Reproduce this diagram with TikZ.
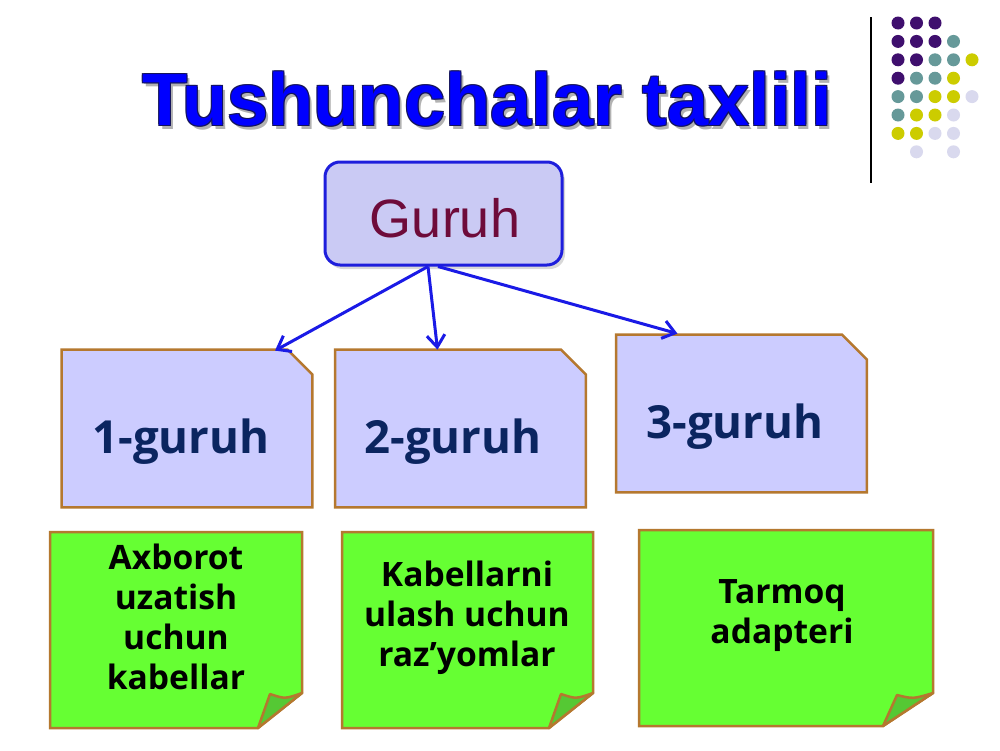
\documentclass[tikz,border=0pt]{standalone}
\usepackage{fontspec}
\setmainfont{Open Sans}
\newfontfamily\titlefont{Liberation Sans}
\usetikzlibrary{calc,arrows.meta,shadows}

\definecolor{titleblue}{HTML}{0000FF}
\definecolor{titleedge}{HTML}{14145C}
\definecolor{rootfill}{HTML}{CACAF4}
\definecolor{rootedge}{HTML}{1E1EDC}
\definecolor{roottext}{HTML}{6E0B3A}
\definecolor{grpfill}{HTML}{CCCCFF}
\definecolor{grpedge}{HTML}{B5782F}
\definecolor{navytext}{HTML}{0B2560}
\definecolor{notegreen}{HTML}{66FF33}
\definecolor{notefold}{HTML}{55C834}
\definecolor{arrowblue}{HTML}{1A1AE6}
\definecolor{dotP}{HTML}{3F0F6E}
\definecolor{dotT}{HTML}{669999}
\definecolor{dotY}{HTML}{CCCC00}
\definecolor{dotL}{HTML}{D9D9EE}

\begin{document}
\begin{tikzpicture}[x=0.5pt,y=-0.5pt,
  titletext/.style={font=\titlefont\bfseries\fontsize{37}{40}\selectfont, anchor=base, inner sep=0pt},
  rootbox/.style={rectangle, rounded corners=7.5pt, draw=rootedge, line width=1.5pt, fill=rootfill,
    minimum width=118.5pt, minimum height=51.5pt, inner sep=0pt,
    drop shadow={shadow xshift=1.5pt, shadow yshift=-2pt, opacity=0.3}},
  grpbox/.style={rectangle, minimum width=125pt, minimum height=78.5pt, inner sep=0pt},
  grpshape/.style={draw=grpedge, line width=1.25pt, fill=grpfill, line join=miter},
  grplabel/.style={font=\bfseries\fontsize{22.8}{26}\selectfont, text=navytext, anchor=base, inner sep=0pt},
  note/.style={draw=grpedge, line width=1.25pt, fill=notegreen},
  notefoldpart/.style={draw=grpedge, line width=1.25pt, fill=notefold, line join=round},
  notetext/.style={font=\bfseries\fontsize{16.8}{20}\selectfont, align=center, inner sep=0pt},
  arr/.style={-{Straight Barb[length=6pt,width=9pt]}, arrowblue, line width=1.5pt}]

\useasboundingbox[fill=white] (0,0) rectangle (1000,750);

% Title with outline and shadow
\node[titletext, text=black!30] (tshadow) at (490,129) {Tushunchalar taxlili};
\foreach \dx/\dy [count=\k] in {-1/-1,1/1,-1/1,1/-1}
  \node[titletext, text=titleedge] (tedge\k) at (487+\dx,125+\dy) {Tushunchalar taxlili};
\node[titletext, text=titleblue] (title) at (487,125) {Tushunchalar taxlili};

% Dot grid and rule
\draw[line width=0.75pt] (871,17) coordinate (rtop) -- (871,183) coordinate (rbot);
\foreach \i/\j/\c in {1/1/dotP,2/1/dotP,3/1/dotP,
    1/2/dotP,2/2/dotP,3/2/dotP,4/2/dotT,
    1/3/dotP,2/3/dotP,3/3/dotT,4/3/dotT,5/3/dotY,
    1/4/dotP,2/4/dotT,3/4/dotT,4/4/dotY,
    1/5/dotT,2/5/dotT,3/5/dotY,4/5/dotY,5/5/dotL,
    1/6/dotT,2/6/dotY,3/6/dotY,4/6/dotL,
    1/7/dotY,2/7/dotY,3/7/dotL,4/7/dotL,
    2/8/dotL,4/8/dotL}
  \fill[\c] (879.5+18.5*\i,4.6+18.4*\j) circle (6.5);

% Root
\node[rootbox] (root) at (443.5,213.5) {};
\node[font=\titlefont\fontsize{27}{30}\selectfont, text=roottext, anchor=base, inner sep=0pt] (rootlbl) at (445,237) {Guruh};

% Groups (boxes with the top right corner cut off)
\node[grpbox] (g1) at (187,428.5) {};
\node[grpbox] (g2) at (460.5,428.5) {};
\node[grpbox] (g3) at (741.5,413.5) {};
\foreach \b in {g1,g2,g3}
  \draw[grpshape] (\b.north west) -- ($(\b.north east)+(-25,0)$) -- ($(\b.north east)+(0,25)$)
    -- (\b.south east) -- (\b.south west) -- cycle;
\node[grplabel] (l1) at (181,453) {1-guruh};
\node[grplabel] (l2) at (453,453) {2-guruh};
\node[grplabel] (l3) at (735,438) {3-guruh};

% Arrows
\coordinate (gs1) at ($(root.south)+(-15.5,0)$);
\coordinate (gs2) at ($(root.south)+(-5.5,0)$);
\draw[arr] (gs1) -- ($(g1.north)+(88,1)$);
\draw[arr] (gs1) -- ($(g2.north)+(-23,0)$);
\draw[arr] (gs2) -- ($(g3.north)+(-64,-1)$);

% Notes
\draw[note] (50,532) -- (302,532) -- (302,693) -- (258,728) -- (50,728) -- cycle;
\draw[notefoldpart] (258,728) -- (270,694) .. controls (285,699) .. (302,693) -- cycle;
\draw[note] (342,532) -- (593,532) -- (593,693) -- (549,728) -- (342,728) -- cycle;
\draw[notefoldpart] (549,728) -- (561,694) .. controls (576,699) .. (593,693) -- cycle;
\draw[note] (639,530) -- (933,530) -- (933,693) -- (883,726) -- (639,726) -- cycle;
\draw[notefoldpart] (883,726) -- (897,695) .. controls (913,699) .. (933,693) -- cycle;

\node[notetext] (n1) at (176,617) {Axborot\\uzatish\\uchun\\kabellar};
\node[notetext] (n2) at (467,618) {Kabellarni\\ulash uchun\\raz’yomlar};
\node[notetext] (n3) at (782,616) {Tarmoq\\adapteri};

\end{tikzpicture}
\end{document}
